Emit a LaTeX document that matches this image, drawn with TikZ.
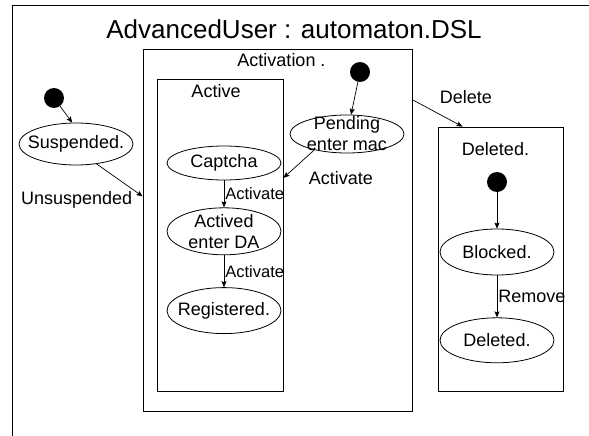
\documentclass[tikz,border=0pt]{standalone}
\usepackage{fontspec}
\setmainfont{Liberation Sans}
\usetikzlibrary{positioning, arrows.meta, shapes.geometric}
\newcommand{\statefont}{\fontsize{18}{21}\selectfont}
\newcommand{\smallfont}{\fontsize{16.5}{19}\selectfont}
\newcommand{\titlefont}{\fontsize{26}{30}\selectfont}
\tikzstyle{region} = [
    rectangle, draw, line width=0.8pt, inner sep=0pt
]
\tikzstyle{regionlabel} = [
    font=\statefont, inner sep=1pt
]
\tikzstyle{state} = [
    ellipse, draw, line width=0.8pt,
    minimum width=114pt, minimum height=42pt,
    inner xsep=-8pt, inner ysep=-4pt, % text may run over the border
    align=center, font=\statefont
]
\tikzstyle{startdot} = [
    circle, fill=black, minimum size=20pt, inner sep=0pt
]
\tikzstyle{trans} = [
    -{Stealth[length=6pt, width=5pt, inset=1pt]}, line width=0.7pt
]
\tikzstyle{translabel} = [
    font=\statefont, inner sep=1pt
]

\begin{document}
\begin{tikzpicture}[x=1pt, y=-1pt]
        \useasboundingbox (0,0) rectangle (589,436);

        % Frame and title
        \draw[line width=0.8pt] (589,5) -- (12,5) -- (12,436);
        \node[font=\titlefont] (title) at (294,29) {AdvancedUser : automaton.DSL};

        % Composite states
        \node[region, minimum width=269pt, minimum height=362pt] (activation) at (277.5,230) {};
        \node[regionlabel] (activationlabel) [below=4pt of activation.north, xshift=4pt] {Activation .};

        \node[region, minimum width=126pt, minimum height=312pt] (active) at (220,235) {};
        \node[regionlabel] (activelabel) [below=5pt of active.north, xshift=-4pt] {Active};

        \node[region, minimum width=125pt, minimum height=264pt] (deletedbox) at (500.5,259) {};
        \node[regionlabel] (deletedlabel) [below=15pt of deletedbox.north, xshift=-5pt] {Deleted.};

        % Initial states
        \node[startdot] (topdot) at (54,98) {};
        \node[startdot] (activationdot) at (360,72) {};
        \node[startdot] (deleteddot) at (497,182) {};

        % Simple states
        \node[state] (suspended) at (76,144) {Suspended.};
        \node[state, minimum height=34pt] (captcha) at (224,163) {Captcha};
        \node[state, minimum height=47pt] (actived) [below=27pt of captcha] {Actived\\enter DA};
        \node[state, minimum height=46pt] (registered) [below=32pt of actived] {Registered.};
        \node[state, minimum height=38pt] (pending) at (347,134) {Pending\\enter mac};
        \node[state, minimum height=46pt] (blocked) at (497,252) {Blocked.};
        \node[state, minimum height=45pt] (deleted) [below=42pt of blocked] {Deleted.};

        % Transitions
        \draw[trans] (topdot) -- (suspended.100);
        \draw[trans] (suspended.-44) -- (activation.166)
            node[translabel, at end, left=9pt, yshift=-3pt] {Unsuspended};
        \draw[trans] (activationdot) -- (pending);
        \draw[trans] (pending.-154) -- (active.42.6)
            node[translabel, at end, right=24pt] {Activate};
        \draw[trans] (captcha) -- node[translabel, right, font=\smallfont] {Activate} (actived);
        \draw[trans] (actived) -- node[translabel, right, font=\smallfont] {Activate} (registered);
        \draw[trans] (activation.44.5) -- node[translabel, above right=8pt and 1pt] {Delete} (deletedbox.106);
        \draw[trans] (deleteddot) -- (blocked);
        \draw[trans] (blocked) -- node[translabel, right] {Remove} (deleted);

    \end{tikzpicture}
\end{document}
